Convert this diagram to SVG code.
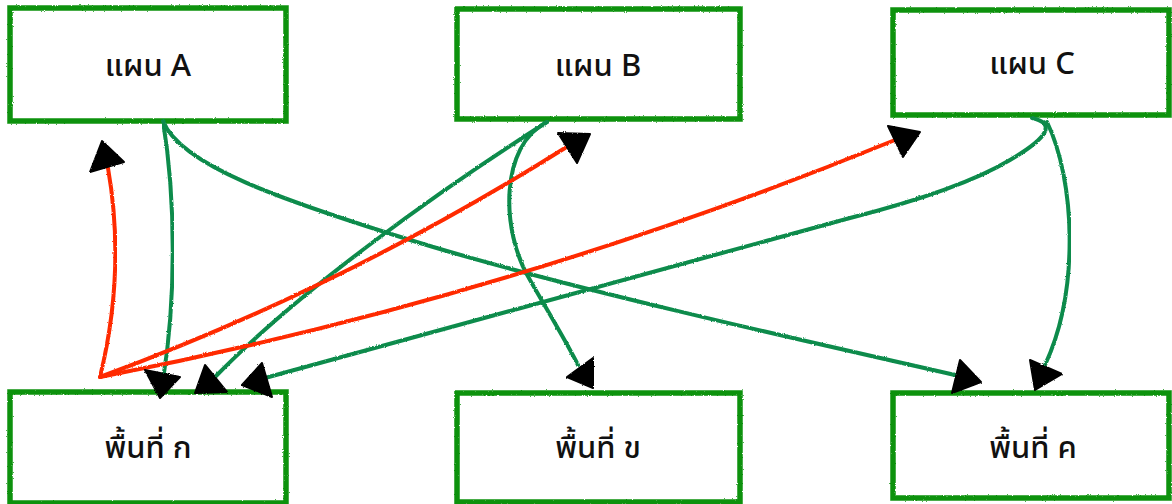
<svg xmlns="http://www.w3.org/2000/svg" width="1172" height="504" viewBox="0 0 1172 504">
<style>
.box{fill:#ffffff;stroke:#0c920c;stroke-width:5.5;filter:url(#rough)}
.lbl{font-family:"Noto Sans","Noto Sans Thai","DejaVu Sans",sans-serif;font-size:31px;font-weight:500;fill:#111111;text-anchor:middle}
.g{fill:none;stroke:#0a8b4c;stroke-width:4;stroke-linecap:round;filter:url(#rough)}
.r{fill:none;stroke:#ff2a00;stroke-width:4;stroke-linecap:round;filter:url(#rough)}
.ah{fill:#000000;stroke:#000000;stroke-width:2;stroke-linejoin:round;filter:url(#rough)}
</style>
<defs>
<filter id="rough" x="-5%" y="-5%" width="110%" height="110%">
<feTurbulence type="fractalNoise" baseFrequency="0.9" numOctaves="2" seed="3" result="n"/>
<feDisplacementMap in="SourceGraphic" in2="n" scale="2.2" xChannelSelector="R" yChannelSelector="G"/>
</filter>
</defs>
<rect width="1172" height="504" fill="#ffffff"/>
<g id="planA"><rect class="box" x="10" y="8" width="276" height="113"/><text class="lbl" x="148" y="76">แผน A</text></g>
<g id="planB"><rect class="box" x="457" y="9" width="283" height="110"/><text class="lbl" x="598" y="76">แผน B</text></g>
<g id="planC"><rect class="box" x="893" y="10" width="276" height="105"/><text class="lbl" x="1032" y="74">แผน C</text></g>
<g id="areaK"><rect class="box" x="10" y="392" width="276" height="111"/><text class="lbl" x="148" y="458">พื้นที่ ก</text></g>
<g id="areaKh"><rect class="box" x="457" y="393" width="283" height="109"/><text class="lbl" x="598" y="458">พื้นที่ ข</text></g>
<g id="areaKk"><rect class="box" x="893" y="393" width="276" height="105"/><text class="lbl" x="1033" y="458">พื้นที่ ค</text></g>
<g id="connectors">
<path class="g" d="M163,121 C176,200 176,300 163,380"/>
<path class="g" d="M163,121 C180,165 280,200 420,243 S800,340 955,375"/>
<path class="g" d="M547,122 C440,190 300,290 216,376"/>
<path class="g" d="M547,122 C500,145 500,230 530,280 C550,315 568,345 578,365"/>
<path class="g" d="M1032,118 Q1068,126 1010,160 Q960,190 850,218 L265,378"/>
<path class="g" d="M1047,122 C1075,180 1080,290 1045,365"/>
<path class="r" d="M100,377 Q126,271 108,168"/>
<path class="r" d="M100,377 Q344,287 565,148"/>
<path class="r" d="M100,377 Q509,298 895,140"/>
<polygon class="ah" points="145,370 180,377 160,398"/>
<polygon class="ah" points="205,365 195,393 227,392"/>
<polygon class="ah" points="262,363 242,385 272,397"/>
<polygon class="ah" points="593,358 567,377 593,388"/>
<polygon class="ah" points="960,360 952,393 981,382"/>
<polygon class="ah" points="1030,360 1035,390 1062,374"/>
<polygon class="ah" points="102,141 90,172 124,162"/>
<polygon class="ah" points="558,133 590,134 577,163"/>
<polygon class="ah" points="888,126 920,132 903,157"/>
</g>
</svg>
